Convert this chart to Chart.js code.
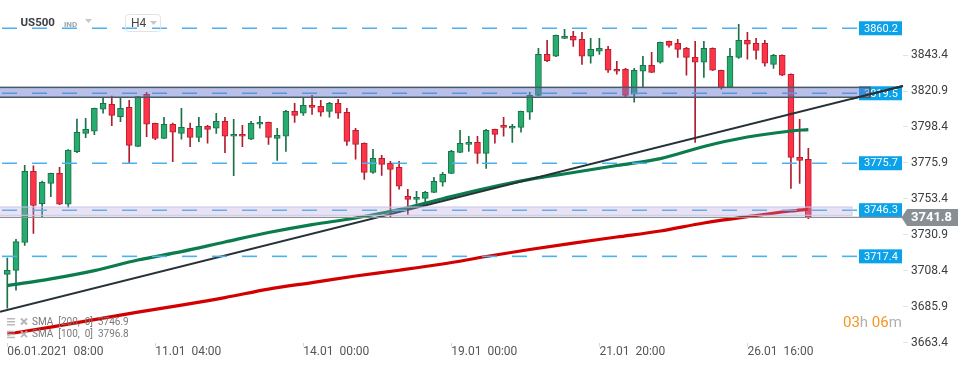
<!DOCTYPE html>
<html><head><meta charset="utf-8">
<script src="https://cdn.jsdelivr.net/npm/chart.js@4.4.1/dist/chart.umd.min.js"></script>
<style>html,body{margin:0;padding:0;background:#fff;overflow:hidden}#wrap{position:relative;width:970px;height:368px}</style>
</head><body><div id="wrap"><canvas id="c" width="970" height="368"></canvas></div>
<script>
// ---- data (H4 candles, US500) ----
const openP  = [3706.1,3708.6,3726.2,3770.6,3750.4,3763.1,3769.4,3750.0,3782.9,3794.4,3795.7,3809.5,3812.6,3804.8,3810.7,3786.3,3818.9,3800.7,3791.3,3800.1,3794.4,3797.6,3791.9,3798.8,3797.6,3802.0,3792.6,3793.8,3790.7,3800.1,3801.3,3791.3,3792.6,3808.2,3807.0,3812.0,3811.3,3808.2,3813.2,3807.6,3796.3,3788.2,3770.0,3778.8,3775.6,3773.1,3755.0,3753.1,3753.7,3757.5,3763.8,3769.4,3782.5,3787.5,3788.8,3781.9,3796.9,3799.4,3797.6,3798.2,3807.6,3818.2,3843.9,3842.7,3853.9,3855.2,3853.3,3842.7,3845.8,3847.0,3834.5,3834.5,3818.9,3833.3,3837.0,3838.9,3852.0,3850.8,3847.7,3842.0,3838.9,3847.7,3833.9,3823.2,3842.0,3852.7,3850.8,3850.8,3837.6,3843.3,3831.4,3779.4,3778.2];
const highP  = [3716.3,3728.1,3774.4,3774.0,3764.6,3769.6,3773.1,3784.2,3803.4,3803.8,3810.3,3816.7,3817.8,3816.7,3815.1,3817.6,3820.1,3800.9,3804.5,3800.9,3810.1,3800.9,3804.5,3799.4,3807.0,3804.5,3803.2,3799.4,3802.0,3805.1,3801.5,3797.6,3808.8,3813.2,3816.4,3818.2,3815.1,3813.9,3815.7,3810.1,3797.6,3788.4,3784.4,3780.7,3776.9,3776.9,3759.4,3758.1,3758.1,3766.9,3770.0,3783.8,3796.3,3792.6,3792.6,3796.9,3797.1,3804.5,3800.1,3808.4,3820.1,3847.7,3852.7,3856.0,3859.6,3858.3,3857.7,3853.9,3853.9,3848.9,3839.5,3835.1,3835.1,3842.7,3845.2,3851.6,3852.2,3853.3,3848.3,3852.0,3852.0,3847.9,3834.1,3847.7,3862.7,3857.7,3853.9,3852.7,3843.9,3843.5,3831.6,3803.2,3785.0];
const lowP   = [3684.9,3696.3,3724.3,3731.8,3742.2,3754.7,3749.8,3748.1,3782.3,3791.7,3793.6,3807.0,3799.2,3801.7,3775.6,3786.0,3792.3,3790.4,3791.1,3776.7,3790.7,3786.0,3789.2,3788.2,3794.4,3782.3,3767.9,3786.0,3790.5,3797.6,3787.5,3777.5,3783.1,3801.3,3805.7,3806.3,3805.1,3804.5,3803.8,3786.9,3778.2,3765.6,3769.4,3768.1,3742.2,3759.4,3743.7,3750.6,3750.6,3757.3,3761.3,3769.2,3782.3,3783.1,3775.6,3772.5,3788.2,3792.6,3788.8,3795.1,3803.2,3817.9,3839.3,3842.4,3853.7,3848.9,3837.6,3838.3,3843.9,3832.6,3831.4,3817.0,3813.9,3823.2,3832.4,3838.3,3848.3,3842.0,3830.8,3788.8,3829.5,3833.7,3822.0,3823.0,3841.4,3840.8,3840.8,3836.4,3835.1,3830.6,3760.0,3763.1,3741.0];
const closeP = [3708.6,3726.6,3770.6,3749.3,3763.8,3769.4,3750.0,3784.0,3795.1,3796.9,3810.1,3813.2,3805.7,3810.1,3786.9,3817.4,3800.1,3791.3,3800.1,3795.1,3798.2,3791.9,3798.8,3796.9,3802.0,3792.6,3793.8,3792.6,3800.7,3801.3,3791.9,3793.2,3808.2,3805.7,3812.0,3810.7,3807.6,3813.2,3807.0,3789.4,3787.5,3770.0,3778.8,3775.0,3771.9,3761.3,3753.1,3754.4,3757.5,3764.4,3768.8,3783.1,3788.2,3788.8,3781.9,3796.3,3793.8,3798.2,3798.8,3808.2,3818.2,3843.9,3839.9,3855.8,3855.2,3852.7,3842.7,3847.0,3847.7,3833.9,3833.3,3818.2,3833.9,3837.0,3832.6,3851.4,3849.5,3847.0,3842.0,3838.9,3847.7,3833.9,3823.2,3842.7,3852.7,3850.2,3846.4,3838.3,3843.3,3830.8,3779.4,3777.5,3741.8];

const sma100Idx = [0,5,10,15,20,25,30,35,40,45,50,55,60,65,70,75,80,85,90,92];
const sma100Val = [3699.1,3703.3,3708.5,3715.1,3720.4,3726.4,3732.3,3737.3,3741.4,3746.7,3753.5,3760.0,3765.6,3769.9,3774.3,3778.6,3786.2,3792.1,3795.9,3796.8];
const sma200Idx = [0,5,10,15,20,25,30,35,40,45,50,55,60,65,70,75,80,85,90,92];
const sma200Val = [3668.8,3673.1,3677.8,3682.5,3686.9,3691.6,3696.9,3701.0,3705.1,3708.7,3712.6,3717.3,3721.7,3725.7,3729.5,3733.3,3738.3,3742.3,3745.8,3746.9];

const trendIdx = [-0.84, 102.87];
const trendVal = [3682.7, 3824.0];

const levels = [3860.2, 3819.5, 3775.7, 3746.3, 3717.4];
const bandUpper = [3817.0, 3823.2];
const bandLower = [3743.1, 3748.3];
const lastPrice = 3741.8;

const yTicks = [3843.4, 3820.9, 3798.4, 3775.9, 3753.4, 3730.9, 3708.4, 3685.9, 3663.4];
const xTickIdx = [0, 17, 34, 51, 68, 85];
const xTickLabels = ['06.01.2021  08:00', '11.01  04:00', '14.01  00:00', '19.01  00:00', '21.01  20:00', '26.01  16:00'];
const legendTexts = ['SMA  [200,  0]  3746.9', 'SMA  [100,  0]  3796.8'];
const symbolName = 'US500';
const timeframe = 'H4';

// ---- styling ----
const FONT = 'Roboto';
const idx = openP.map((_, i) => i);
const isUp = idx.map(i => closeP[i] >= openP[i]);

const overlay = {
  id: 'overlay',
  beforeDatasetsDraw(chart) {
    const {ctx, scales: {y}} = chart;
    ctx.save();
    ctx.font = '11px ' + FONT;
    ctx.textBaseline = 'middle';
    levels.forEach(v => {
      const py = y.getPixelForValue(v);
      ctx.fillStyle = '#0ba2e9';
      ctx.fillRect(859, py - 7, 43, 14);
      ctx.fillStyle = '#ffffff';
      ctx.fillText(v.toFixed(1), 864, py + 0.5);
    });
    ctx.restore();
  },
  afterDatasetsDraw(chart) {
    const {ctx, scales: {x, y}} = chart;
    ctx.save();
    // dashed level lines
    ctx.setLineDash([15, 15]);
    ctx.lineWidth = 1.6;
    ctx.strokeStyle = '#4cb1ec';
    levels.forEach(v => {
      const py = y.getPixelForValue(v);
      ctx.beginPath(); ctx.moveTo(2, py); ctx.lineTo(857, py); ctx.stroke();
    });
    ctx.setLineDash([]);
    // upper band
    let t = y.getPixelForValue(bandUpper[1]), b = y.getPixelForValue(bandUpper[0]);
    ctx.fillStyle = 'rgba(104,118,206,0.47)';
    ctx.fillRect(0, t, 870, b - t);
    ctx.strokeStyle = '#4a5963'; ctx.lineWidth = 1.5;
    ctx.strokeRect(-2, t, 872, b - t);
    // lower band
    t = y.getPixelForValue(bandLower[1]); b = y.getPixelForValue(bandLower[0]);
    ctx.fillStyle = 'rgba(178,158,222,0.30)';
    ctx.fillRect(0, t, 852, b - t);
    ctx.strokeStyle = '#cdc4e8'; ctx.lineWidth = 1;
    ctx.strokeRect(-2, t, 854, b - t);
    // last price line
    const lp = y.getPixelForValue(lastPrice);
    ctx.strokeStyle = '#8b9297'; ctx.lineWidth = 1.3;
    ctx.beginPath(); ctx.moveTo(0, lp); ctx.lineTo(903, lp); ctx.stroke();
    // trend line segment crossing the right-hand label column, kept on top
    const tx0 = x.getPixelForValue(trendIdx[0]), ty0 = y.getPixelForValue(trendVal[0]);
    const tx1 = x.getPixelForValue(trendIdx[1]), ty1 = y.getPixelForValue(trendVal[1]);
    ctx.save();
    ctx.beginPath(); ctx.rect(852, 0, 52, 368); ctx.clip();
    ctx.strokeStyle = '#263238'; ctx.lineWidth = 2;
    ctx.beginPath(); ctx.moveTo(tx0, ty0); ctx.lineTo(tx1, ty1); ctx.stroke();
    ctx.restore();
    ctx.restore();
  },
  afterDraw(chart) {
    const {ctx, scales: {y}} = chart;
    ctx.save();
    // last price tag
    const lp = y.getPixelForValue(lastPrice);
    ctx.fillStyle = '#878f95';
    ctx.beginPath();
    ctx.moveTo(901.5, lp);
    ctx.lineTo(907, lp - 8.5);
    ctx.lineTo(958, lp - 8.5);
    ctx.lineTo(958, lp + 8.5);
    ctx.lineTo(907, lp + 8.5);
    ctx.closePath(); ctx.fill();
    ctx.fillStyle = '#fff';
    ctx.font = 'bold 13px ' + FONT;
    ctx.textBaseline = 'middle';
    ctx.fillText(lastPrice.toFixed(1), 911, lp + 0.5);

    // header
    ctx.fillStyle = '#3b4045';
    ctx.font = 'bold 11.5px ' + FONT;
    ctx.fillText(symbolName, 20.5, 23);
    ctx.fillStyle = '#97a6b1';
    ctx.font = 'bold 8px ' + FONT;
    ctx.fillText('IND', 64, 24.5);
    ctx.fillStyle = '#c6c6c6';
    ctx.beginPath(); ctx.moveTo(85, 19); ctx.lineTo(92, 19); ctx.lineTo(88.5, 23); ctx.closePath(); ctx.fill();
    ctx.strokeStyle = '#e3e3e3'; ctx.lineWidth = 1;
    ctx.beginPath();
    if (ctx.roundRect) ctx.roundRect(125.5, 14.5, 35, 17, 3); else ctx.rect(125.5, 14.5, 35, 17);
    ctx.stroke();
    ctx.fillStyle = '#444';
    ctx.font = '12px ' + FONT;
    ctx.fillText(timeframe, 131, 23.5);
    ctx.fillStyle = '#c6c6c6';
    ctx.beginPath(); ctx.moveTo(150, 21); ctx.lineTo(157, 21); ctx.lineTo(153.5, 25); ctx.closePath(); ctx.fill();

    // legend (bottom-left)
    legendTexts.forEach((txt, k) => {
      const ly = 322 + k * 12.7;
      ctx.fillStyle = '#b9b9b9';
      ctx.fillRect(7, ly - 4, 8, 1.5);
      ctx.fillRect(7, ly - 1, 8, 1.5);
      ctx.fillRect(7, ly + 2, 8, 1.5);
      ctx.strokeStyle = '#b3b3b3'; ctx.lineWidth = 1.8;
      ctx.beginPath();
      ctx.moveTo(21, ly - 3.5); ctx.lineTo(27, ly + 2.5);
      ctx.moveTo(27, ly - 3.5); ctx.lineTo(21, ly + 2.5);
      ctx.stroke();
      ctx.fillStyle = '#7a7a7a';
      ctx.font = '10px ' + FONT;
      ctx.fillText(txt, 32, ly);
    });

    // countdown timer
    ctx.font = '15px ' + FONT;
    let tx = 843;
    [['03', '#f7941d'], ['h', '#b0b0b0'], [' 06', '#f7941d'], ['m', '#b0b0b0']].forEach(([s, c]) => {
      ctx.fillStyle = c; ctx.fillText(s, tx, 323);
      tx += ctx.measureText(s).width;
    });
    ctx.restore();
  }
};

new Chart(document.getElementById('c').getContext('2d'), {
  type: 'bar',
  data: {
    datasets: [
      { type: 'line', label: 'trend', data: trendIdx.map((v, i) => ({x: v, y: trendVal[i]})),
        borderColor: '#263238', borderWidth: 2, pointRadius: 0, order: 1 },
      { type: 'line', label: 'SMA 100', data: sma100Idx.map((v, i) => ({x: v, y: sma100Val[i]})),
        borderColor: '#0b7c4e', borderWidth: 3.2, pointRadius: 0, cubicInterpolationMode: 'monotone', order: 2 },
      { type: 'line', label: 'SMA 200', data: sma200Idx.map((v, i) => ({x: v, y: sma200Val[i]})),
        borderColor: '#d20000', borderWidth: 3.2, pointRadius: 0, cubicInterpolationMode: 'monotone', order: 3 },
      { type: 'bar', label: 'body', data: idx.map(i => ({x: i, y: [openP[i], closeP[i]]})),
        backgroundColor: idx.map(i => isUp[i] ? '#27ab6e' : '#fd3347'),
        borderColor: idx.map(i => isUp[i] ? '#1b7148' : '#b51f30'),
        borderWidth: 1, borderSkipped: false, barThickness: 6, minBarLength: 2, grouped: false, order: 4 },
      { type: 'bar', label: 'wick', data: idx.map(i => ({x: i, y: [lowP[i], highP[i]]})),
        backgroundColor: idx.map(i => isUp[i] ? '#1b7148' : '#b01e2e'),
        borderWidth: 0, barThickness: 1, grouped: false, order: 5 }
    ]
  },
  options: {
    responsive: false, animation: false, devicePixelRatio: 1,
    layout: {padding: 0},
    plugins: {legend: {display: false}, tooltip: {enabled: false}},
    scales: {
      x: {
        type: 'linear', min: -0.838, max: 102.87, offset: false,
        grid: {drawOnChartArea: false, offset: false, tickLength: 4, color: '#d6d6d6'},
        border: {display: false},
        ticks: {autoSkip: false, maxRotation: 0, minRotation: 0, align: 'start', padding: -2,
          color: '#555', font: {family: FONT, size: 12},
          callback: (v, i) => xTickLabels[i]},
        afterBuildTicks: s => { s.ticks = xTickIdx.map(v => ({value: v})); },
        afterFit: s => { s.height = 368 - 342.6; s.paddingLeft = 0; s.paddingRight = 0; }
      },
      y: {
        type: 'linear', position: 'right', min: 3663.4, max: 3877.9,
        grid: {drawOnChartArea: false, tickLength: 5, color: '#e2e2e2'},
        border: {display: false},
        ticks: {autoSkip: false, padding: 3, color: '#3c3c3c', font: {family: FONT, size: 12},
          callback: v => Number(v).toFixed(1)},
        afterBuildTicks: s => { s.ticks = yTicks.map(v => ({value: v})); },
        afterFit: s => { s.width = 67; s.paddingTop = 0; s.paddingBottom = 0; }
      }
    }
  },
  plugins: [overlay]
});
</script>
</body></html>
